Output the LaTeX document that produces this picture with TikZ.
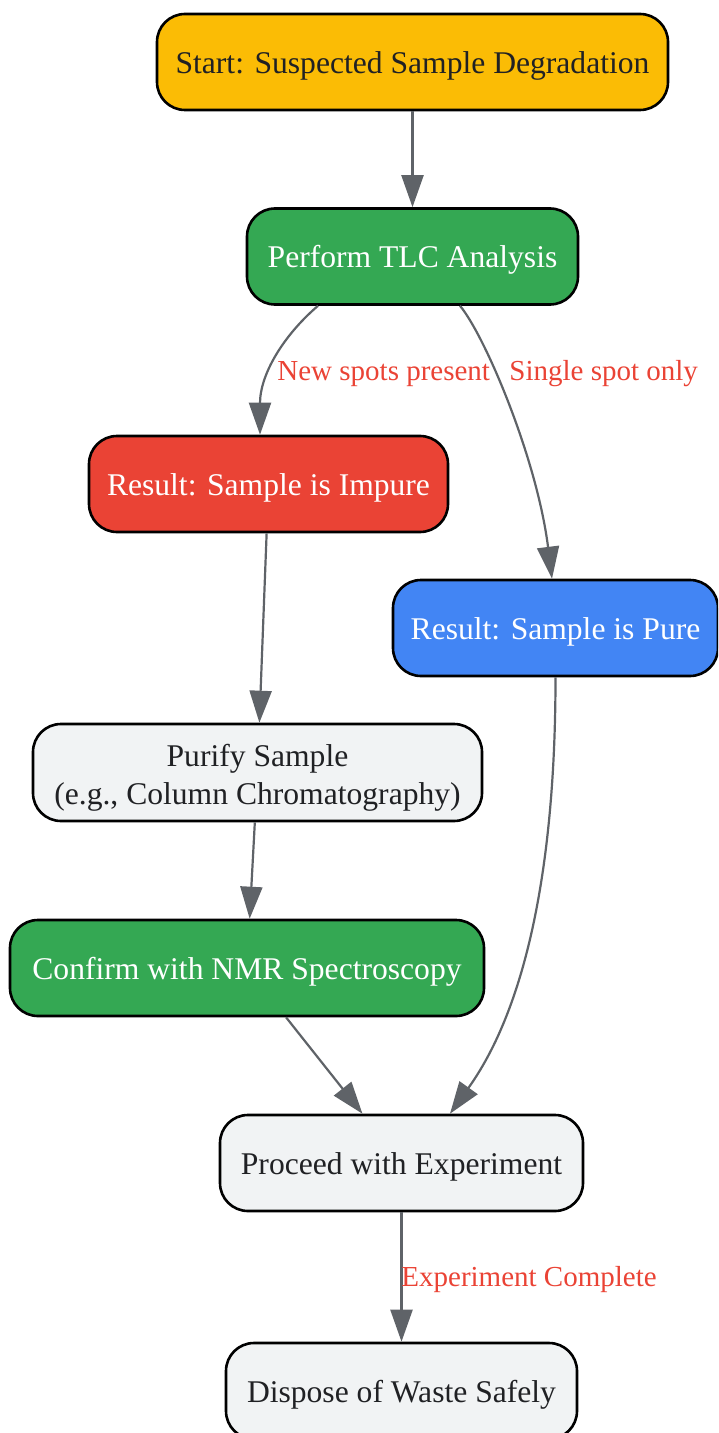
\documentclass[tikz,border=0pt]{standalone}
\usepackage{fontspec}
\setmainfont{Liberation Serif}
\usepackage{tikz}
\usetikzlibrary{positioning}
\usetikzlibrary{arrows.meta}

\definecolor{gyellow}{HTML}{FBBC05}
\definecolor{ggreen}{HTML}{34A853}
\definecolor{gred}{HTML}{EA4335}
\definecolor{gblue}{HTML}{4285F4}
\definecolor{ggray}{HTML}{F1F3F4}
\definecolor{gtext}{HTML}{202124}
\definecolor{gedge}{HTML}{5F6368}

\begin{document}
\begin{tikzpicture}[x=0.5pt, y=-0.5pt,
    main/.style = {draw, line width=1.3pt, rounded corners=14pt, minimum height=48pt,
                   inner sep=0pt, align=center, text height=14pt, text depth=2.8pt,
                   font=\fontsize{15.8}{19}\selectfont},
    dark/.style = {main, text=gtext},
    light/.style = {main, text=white},
    edge/.style = {draw=gedge, line width=1.1pt, -{Triangle[length=16pt, width=11pt]}},
    lbl/.style = {text=gred, inner sep=0pt, font=\fontsize{14.5}{17}\selectfont}]
            \clip (0,0) rectangle (718,1433);
            % Nodes
            \node[dark, fill=gyellow, minimum width=255.5pt] (start) at (412.5,62) {Start: Suspected Sample Degradation};
            \node[light, fill=ggreen, minimum width=165.5pt] (tlc) at (412.5,256.5) {Perform TLC Analysis};
            \node[light, fill=gred, minimum width=179.5pt] (impure) at (268.5,484) {Result: Sample is Impure};
            \node[light, fill=gblue, minimum width=162.5pt] (pure) at (555.5,628) {Result: Sample is Pure};
            \node[dark, fill=ggray, minimum width=224.5pt, minimum height=48.5pt, text height=33.5pt, text depth=2pt] (purify) at (257.5,772.5) {Purify Sample\\(e.g., Column Chromatography)};
            \node[light, fill=ggreen, minimum width=237pt] (nmr) at (247,968) {Confirm with NMR Spectroscopy};
            \node[dark, fill=ggray, minimum width=181.5pt] (proceed) at (401.5,1163) {Proceed with Experiment};
            \node[dark, fill=ggray, minimum width=175.5pt] (dispose) at (401.5,1391) {Dispose of Waste Safely};
            % Edges
            \draw[edge] (start) -- (tlc);
            \draw[edge] ([xshift=-47.25pt]tlc.south) .. controls +(-35,30) and +(0,-60) .. ([xshift=-4.25pt]impure.north);
            \draw[edge] ([xshift=23.75pt]tlc.south) .. controls +(25,30) and +(-15,-120) .. ([xshift=-1.75pt]pure.north);
            \draw[edge] (impure) -- (purify);
            \draw[edge] (pure.south) .. controls +(0,260) and +(50,-70) .. ([xshift=24.25pt]proceed.north);
            \draw[edge] (purify) -- (nmr);
            \draw[edge] (nmr) -- (proceed);
            \draw[edge] (proceed) -- (dispose);
            % Edge labels
            \node[lbl, anchor=west] (lnew) at (277,374) {New spots present};
            \node[lbl, anchor=west] (lsingle) at (509,374) {Single spot only};
            \node[lbl, anchor=west] (ldone) at (401,1280) {Experiment Complete};
\end{tikzpicture}
\end{document}
